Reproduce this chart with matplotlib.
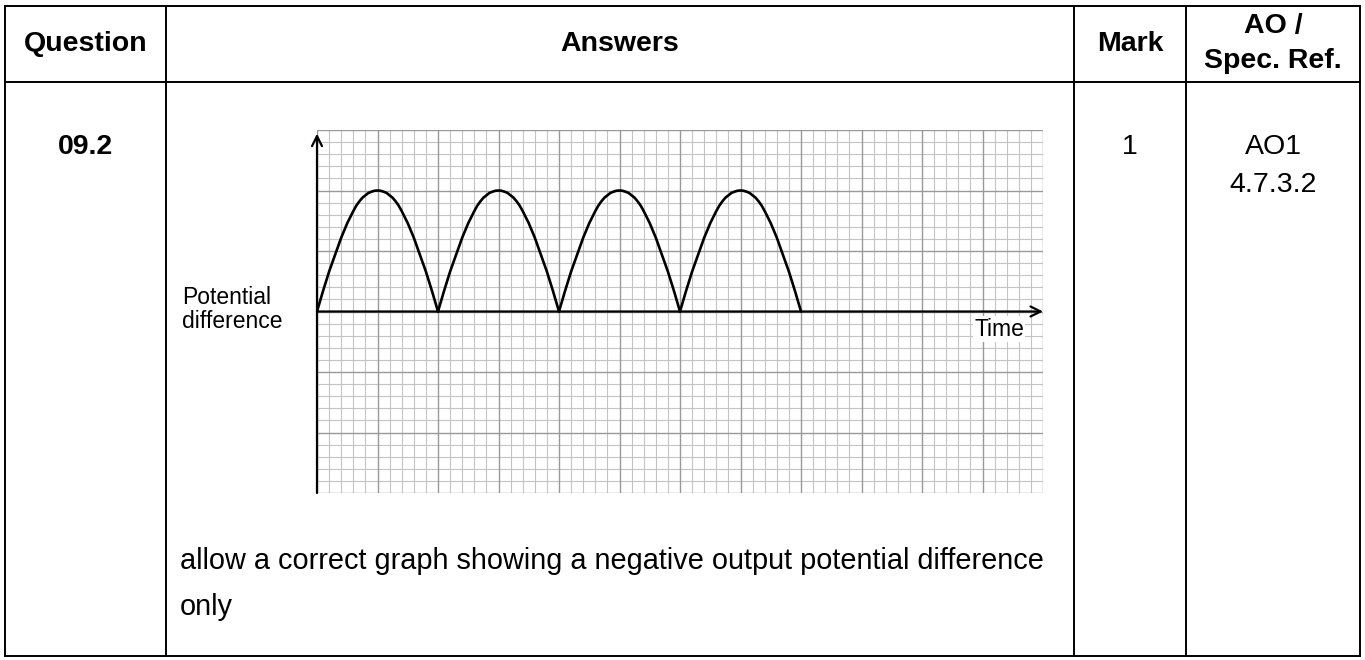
import numpy as np
import matplotlib
matplotlib.use("Agg")
import matplotlib.pyplot as plt

plt.rcParams["font.family"] = ["Liberation Sans", "DejaVu Sans"]

# table content
headers = ["Question", "Answers", "Mark"]
ao_header = ["AO /", "Spec. Ref."]
question = "09.2"
mark = "1"
ao_refs = ["AO1", "4.7.3.2"]
answer_lines = [
    "allow a correct graph showing a negative output potential difference",
    "only",
]

# graph, in small squares of the grid
hump_starts = [0, 10, 20, 30]
hump_offsets = [0, 0.25, 0.5, 0.75, 1, 1.25, 1.5, 1.75, 2, 2.25, 2.5,
                2.75, 3, 3.25, 3.5, 3.75, 4, 4.25, 4.5, 4.75, 5,
                5.25, 5.5, 5.75, 6, 6.25, 6.5, 6.75, 7, 7.25, 7.5,
                7.75, 8, 8.25, 8.5, 8.75, 9, 9.25, 9.5, 9.75, 10]
hump_values = [0, 0.85, 1.7, 2.5, 3.3, 4.0, 4.7, 5.4, 6.1, 6.7, 7.3,
               7.8, 8.3, 8.75, 9.1, 9.4, 9.6, 9.8, 9.9, 9.98, 10,
               9.98, 9.9, 9.8, 9.6, 9.4, 9.1, 8.75, 8.3, 7.8, 7.3,
               6.7, 6.1, 5.4, 4.7, 4.0, 3.3, 2.5, 1.7, 0.85, 0]
x_squares = 60
y_squares = 15

W, H = 1365, 660
fig = plt.figure(figsize=(W / 100, H / 100), dpi=100)

# page / table layer in pixel coords
bg = fig.add_axes([0, 0, 1, 1])
bg.set_xlim(0, W)
bg.set_ylim(H, 0)
bg.axis("off")

col_x = [5, 166, 1074, 1186, 1360]
row_y = [6, 82, 656]
lw = 1.4
for x in col_x:
    bg.plot([x, x], [row_y[0], row_y[-1]], color="black", lw=lw, solid_capstyle="projecting")
for y in row_y:
    bg.plot([col_x[0], col_x[-1]], [y, y], color="black", lw=lw, solid_capstyle="projecting")

fs = 20.5
centers = [(col_x[i] + col_x[i + 1]) / 2 for i in range(4)]
for c, h in zip(centers[:3], headers):
    bg.text(c, 44, h, ha="center", va="center", fontsize=fs, fontweight="bold")
bg.text(centers[3], 26, ao_header[0], ha="center", va="center", fontsize=fs, fontweight="bold")
bg.text(centers[3], 61, ao_header[1], ha="center", va="center", fontsize=fs, fontweight="bold")

bg.text(centers[0], 147, question, ha="center", va="center", fontsize=fs, fontweight="bold")
bg.text(centers[2], 147, mark, ha="center", va="center", fontsize=fs)
bg.text(centers[3], 147, ao_refs[0], ha="center", va="center", fontsize=fs)
bg.text(centers[3], 185, ao_refs[1], ha="center", va="center", fontsize=fs)

bg.text(180, 561, answer_lines[0], ha="left", va="center", fontsize=20.8)
bg.text(180, 607, answer_lines[1], ha="left", va="center", fontsize=20.8)

bg.text(182, 298, "Potential", ha="left", va="center", fontsize=16.5)
bg.text(182, 321, "difference", ha="left", va="center", fontsize=16.5)

# graph paper
gx0, gx1, gy0, gy1 = 317, 1043, 130, 493
ax = fig.add_axes([gx0 / W, 1 - gy1 / H, (gx1 - gx0) / W, (gy1 - gy0) / H])
ax.set_xlim(0, x_squares)
ax.set_ylim(-y_squares, y_squares)
for v in np.arange(0, x_squares + 1):
    major = v % 5 == 0
    ax.axvline(v, color="#999999" if major else "#c4c4c4", lw=1.0 if major else 0.8,
               zorder=1 if major else 0)
for v in np.arange(-y_squares, y_squares + 1):
    major = v % 5 == 0
    ax.axhline(v, color="#999999" if major else "#c4c4c4", lw=1.0 if major else 0.8,
               zorder=1 if major else 0)
ax.set_xticks([])
ax.set_yticks([])
for s in ax.spines.values():
    s.set_visible(False)
ax.patch.set_alpha(0)

# axes with arrow heads
ax.annotate("", xy=(0, y_squares - 0.3), xytext=(0, -y_squares),
            arrowprops=dict(arrowstyle="->", lw=1.6, color="black", mutation_scale=18,
                            shrinkA=0, shrinkB=0), annotation_clip=False, zorder=5)
ax.annotate("", xy=(x_squares, 0), xytext=(0, 0),
            arrowprops=dict(arrowstyle="->", lw=1.6, color="black", mutation_scale=18,
                            shrinkA=0, shrinkB=0), annotation_clip=False, zorder=5)

offs = np.array(hump_offsets)
vals = np.array(hump_values)
for start in hump_starts:
    ax.plot(start + offs, vals, color="black", lw=1.9, zorder=6, solid_capstyle="round")

# axis label sits on a white patch over the grid
ax.text(999, 329, "Time", transform=bg.transData, ha="center", va="center",
        fontsize=16.5, zorder=7, bbox=dict(facecolor="white", edgecolor="none", pad=1))

fig.savefig("out.png", dpi=100)
